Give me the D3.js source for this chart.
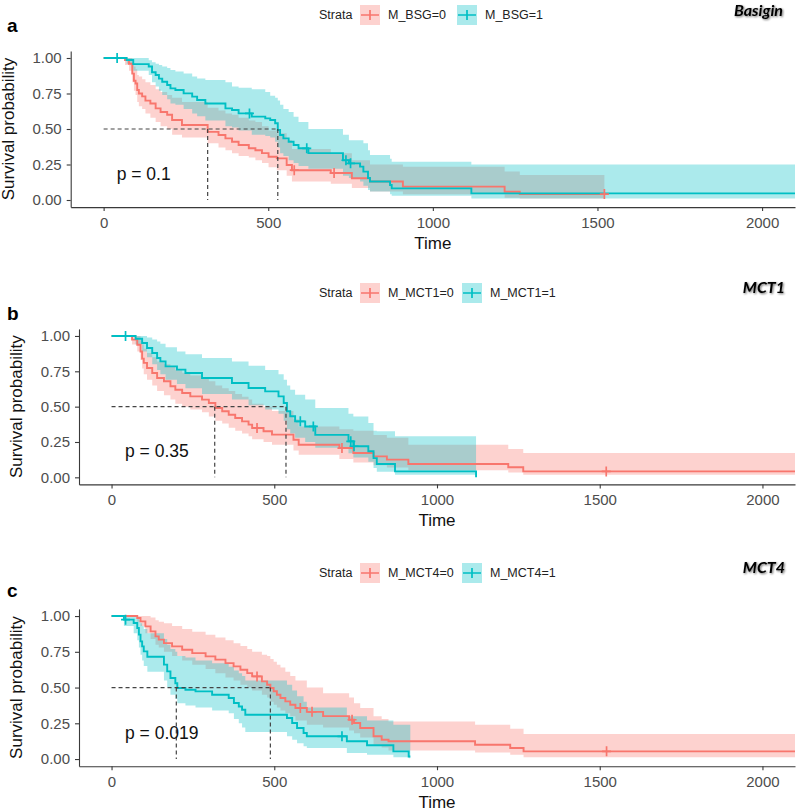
<!DOCTYPE html>
<html><head><meta charset="utf-8">
<script src="https://cdn.jsdelivr.net/npm/d3@7"></script>
<style>body{margin:0;background:#fff}</style>
</head><body><svg id="chart" width="797" height="812"></svg>
<script>
// ---------- shared axis data ----------
const xTicks = [0, 500, 1000, 1500, 2000];
const yTicks = [0, 0.25, 0.5, 0.75, 1];
const xDomain = [-100, 2100];
const yDomain = [-0.05, 1.05];
const panelLetters = ["a", "b", "c"];
const panelTitles = ["Basigin", "MCT1", "MCT4"];
const strataA = ["M_BSG=0", "M_BSG=1"];
const strataB = ["M_MCT1=0", "M_MCT1=1"];
const strataC = ["M_MCT4=0", "M_MCT4=1"];
const pValues = ["p = 0.1", "p = 0.35", "p = 0.019"];
const mediansA = [316, 529];
const mediansB = [317, 536];
const mediansC = [488, 199];

// ---------- panel a: M_BSG=0 ----------
const bsg0Time  = [0, 65, 77, 87, 92, 97, 102, 107, 117, 127, 142, 158, 173, 193, 208, 238, 316, 349, 370, 390, 410, 441, 461, 481, 501, 526, 556, 572, 690, 754, 809, 909, 1218, 1264];
const bsg0Surv  = [1.0, 0.985, 0.96, 0.89, 0.84, 0.82, 0.775, 0.75, 0.73, 0.70, 0.68, 0.645, 0.62, 0.60, 0.563, 0.528, 0.48, 0.458, 0.434, 0.41, 0.387, 0.364, 0.35, 0.33, 0.305, 0.293, 0.246, 0.21, 0.19, 0.153, 0.13, 0.094, 0.058, 0.042];
const bsg0Upper = [1, 1, 1, 0.97, 0.94, 0.92, 0.88, 0.87, 0.85, 0.83, 0.81, 0.78, 0.76, 0.74, 0.72, 0.69, 0.65, 0.63, 0.61, 0.60, 0.58, 0.56, 0.55, 0.52, 0.49, 0.47, 0.42, 0.36, 0.33, 0.28, 0.25, 0.235, 0.20, 0.176];
const bsg0Lower = [1, 0.95, 0.91, 0.83, 0.77, 0.74, 0.69, 0.66, 0.64, 0.61, 0.58, 0.55, 0.52, 0.50, 0.46, 0.44, 0.40, 0.37, 0.35, 0.33, 0.31, 0.30, 0.28, 0.26, 0.23, 0.21, 0.17, 0.13, 0.115, 0.084, 0.06, 0.04, 0.015, 0.01];
const bsg0CensorTime = [579, 700, 1521];
const bsg0CensorSurv = [0.21, 0.19, 0.042];
const bsg0End = 1521;

// ---------- panel a: M_BSG=1 ----------
const bsg1Time  = [0, 70, 90, 137, 147, 158, 168, 178, 193, 203, 218, 243, 269, 284, 309, 370, 390, 410, 450, 491, 506, 521, 529, 536, 546, 562, 577, 592, 622, 727, 745, 779, 789, 803, 809, 870, 875, 1117];
const bsg1Surv  = [1.0, 0.986, 0.957, 0.94, 0.90, 0.88, 0.855, 0.833, 0.81, 0.786, 0.775, 0.751, 0.728, 0.704, 0.68, 0.645, 0.634, 0.61, 0.587, 0.575, 0.563, 0.54, 0.493, 0.458, 0.434, 0.41, 0.387, 0.364, 0.33, 0.28, 0.258, 0.235, 0.20, 0.155, 0.13, 0.106, 0.082, 0.047];
const bsg1Upper = [1, 1, 1, 0.985, 0.97, 0.96, 0.95, 0.94, 0.93, 0.915, 0.905, 0.89, 0.87, 0.855, 0.845, 0.83, 0.80, 0.79, 0.78, 0.76, 0.735, 0.72, 0.70, 0.67, 0.64, 0.62, 0.587, 0.55, 0.50, 0.46, 0.42, 0.42, 0.40, 0.35, 0.317, 0.29, 0.27, 0.25];
const bsg1Lower = [1, 0.96, 0.91, 0.88, 0.83, 0.80, 0.77, 0.74, 0.71, 0.68, 0.67, 0.64, 0.61, 0.59, 0.56, 0.52, 0.51, 0.49, 0.46, 0.45, 0.44, 0.41, 0.37, 0.33, 0.31, 0.28, 0.26, 0.24, 0.22, 0.17, 0.155, 0.13, 0.10, 0.07, 0.06, 0.04, 0.03, 0.01];
const bsg1CensorTime = [41, 443, 617, 736, 750];
const bsg1CensorSurv = [1.0, 0.61, 0.364, 0.28, 0.258];
const bsg1End = 2100;

// ---------- panel b: M_MCT1=0 ----------
const mct1n0Time  = [0, 63, 79, 89, 94, 99, 109, 125, 140, 161, 181, 196, 217, 242, 278, 299, 319, 340, 360, 380, 401, 421, 432, 467, 493, 559, 575, 700, 743, 805, 846, 912, 1219, 1265];
const mct1n0Surv  = [1.0, 0.974, 0.938, 0.89, 0.84, 0.81, 0.773, 0.738, 0.703, 0.68, 0.644, 0.62, 0.597, 0.573, 0.55, 0.526, 0.49, 0.467, 0.443, 0.42, 0.396, 0.373, 0.349, 0.326, 0.302, 0.266, 0.231, 0.207, 0.172, 0.148, 0.125, 0.094, 0.071, 0.042];
const mct1n0Upper = [1, 1, 1, 0.97, 0.94, 0.91, 0.88, 0.85, 0.82, 0.80, 0.78, 0.76, 0.74, 0.72, 0.70, 0.68, 0.65, 0.63, 0.61, 0.59, 0.57, 0.55, 0.52, 0.50, 0.47, 0.41, 0.36, 0.34, 0.33, 0.30, 0.28, 0.23, 0.20, 0.172];
const mct1n0Lower = [1, 0.94, 0.89, 0.83, 0.77, 0.73, 0.69, 0.65, 0.61, 0.58, 0.55, 0.52, 0.50, 0.48, 0.46, 0.43, 0.40, 0.38, 0.35, 0.33, 0.31, 0.29, 0.27, 0.25, 0.23, 0.19, 0.16, 0.13, 0.105, 0.085, 0.07, 0.05, 0.035, 0.018];
const mct1n0CensorTime = [447, 708, 1520];
const mct1n0CensorSurv = [0.349, 0.207, 0.042];
const mct1n0End = 2100;

// ---------- panel b: M_MCT1=1 ----------
const mct1n1Time  = [0, 74, 94, 109, 125, 140, 150, 166, 201, 227, 278, 370, 421, 472, 513, 529, 539, 549, 564, 595, 626, 728, 743, 789, 805, 815, 871, 1120];
const mct1n1Surv  = [1.0, 0.98, 0.95, 0.915, 0.88, 0.844, 0.82, 0.785, 0.762, 0.738, 0.703, 0.667, 0.632, 0.608, 0.573, 0.526, 0.467, 0.432, 0.396, 0.36, 0.30, 0.255, 0.22, 0.184, 0.136, 0.094, 0.042, 0.0];
const mct1n1Upper = [1, 1, 1, 0.99, 0.975, 0.96, 0.945, 0.92, 0.89, 0.87, 0.845, 0.82, 0.79, 0.76, 0.73, 0.69, 0.65, 0.62, 0.585, 0.55, 0.49, 0.45, 0.43, 0.385, 0.33, 0.326, 0.29, 0.29];
const mct1n1Lower = [1, 0.94, 0.89, 0.85, 0.80, 0.76, 0.73, 0.69, 0.66, 0.63, 0.59, 0.55, 0.51, 0.48, 0.45, 0.40, 0.34, 0.31, 0.28, 0.25, 0.21, 0.17, 0.14, 0.11, 0.066, 0.04, 0.018, 0.018];
const mct1n1CensorTime = [43, 580, 620, 735, 745];
const mct1n1CensorSurv = [1.0, 0.396, 0.36, 0.255, 0.22];
const mct1n1End = 1120;

// ---------- panel c: M_MCT4=0 ----------
const mct4n0Time  = [0, 79, 89, 104, 120, 135, 145, 161, 186, 217, 248, 289, 319, 350, 375, 396, 417, 432, 462, 478, 488, 498, 508, 519, 534, 549, 565, 600, 650, 730, 745, 764, 805, 830, 851, 1117, 1225, 1266];
const mct4n0Surv  = [1.0, 0.986, 0.963, 0.928, 0.893, 0.858, 0.835, 0.811, 0.788, 0.764, 0.741, 0.718, 0.695, 0.671, 0.648, 0.625, 0.601, 0.578, 0.543, 0.52, 0.497, 0.474, 0.45, 0.427, 0.403, 0.38, 0.357, 0.33, 0.30, 0.275, 0.252, 0.217, 0.159, 0.135, 0.124, 0.10, 0.077, 0.054];
const mct4n0Upper = [1, 1, 1, 1, 0.99, 0.97, 0.96, 0.95, 0.93, 0.91, 0.89, 0.87, 0.85, 0.83, 0.81, 0.79, 0.77, 0.75, 0.73, 0.72, 0.70, 0.68, 0.66, 0.64, 0.61, 0.58, 0.55, 0.50, 0.46, 0.43, 0.39, 0.357, 0.30, 0.28, 0.263, 0.24, 0.212, 0.175];
const mct4n0Lower = [1, 0.96, 0.93, 0.88, 0.84, 0.80, 0.78, 0.75, 0.72, 0.69, 0.66, 0.63, 0.60, 0.57, 0.55, 0.52, 0.50, 0.48, 0.45, 0.43, 0.40, 0.38, 0.36, 0.34, 0.32, 0.30, 0.27, 0.24, 0.22, 0.20, 0.18, 0.15, 0.10, 0.08, 0.06, 0.045, 0.03, 0.012];
const mct4n0CensorTime = [447, 580, 616, 739, 1521];
const mct4n0CensorSurv = [0.578, 0.357, 0.33, 0.275, 0.054];
const mct4n0End = 2100;

// ---------- panel c: M_MCT4=1 ----------
const mct4n1Time  = [0, 38, 68, 79, 84, 89, 94, 99, 110, 161, 171, 181, 196, 202, 227, 258, 309, 360, 376, 391, 401, 411, 539, 555, 570, 590, 600, 723, 785, 866, 913];
const mct4n1Surv  = [1.0, 0.975, 0.951, 0.916, 0.87, 0.823, 0.788, 0.753, 0.715, 0.66, 0.613, 0.567, 0.53, 0.497, 0.485, 0.473, 0.45, 0.427, 0.392, 0.368, 0.345, 0.31, 0.287, 0.252, 0.217, 0.182, 0.159, 0.124, 0.096, 0.054, 0.018];
const mct4n1Upper = [1, 1, 1, 0.99, 0.97, 0.95, 0.93, 0.91, 0.88, 0.84, 0.80, 0.77, 0.75, 0.72, 0.71, 0.69, 0.67, 0.645, 0.62, 0.60, 0.58, 0.55, 0.52, 0.48, 0.44, 0.40, 0.36, 0.30, 0.27, 0.24, 0.24];
const mct4n1Lower = [1, 0.93, 0.88, 0.83, 0.78, 0.73, 0.69, 0.65, 0.61, 0.55, 0.50, 0.45, 0.42, 0.39, 0.375, 0.36, 0.34, 0.32, 0.28, 0.25, 0.22, 0.19, 0.16, 0.135, 0.11, 0.09, 0.077, 0.042, 0.03, 0.012, 0.005];
const mct4n1CensorTime = [43, 708];
const mct4n1CensorSurv = [0.975, 0.159];
const mct4n1End = 918;

// ---------- assemble ----------
const colors = ["#F8766D", "#00BFC4"];
function curve(time, surv, lower, upper, cTime, cSurv, end) {
  return {time, surv, lower, upper, cTime, cSurv, end};
}
const panels = [
  {letter: panelLetters[0], title: panelTitles[0], strata: strataA, pval: pValues[0], medians: mediansA,
   curves: [curve(bsg0Time, bsg0Surv, bsg0Lower, bsg0Upper, bsg0CensorTime, bsg0CensorSurv, bsg0End),
            curve(bsg1Time, bsg1Surv, bsg1Lower, bsg1Upper, bsg1CensorTime, bsg1CensorSurv, bsg1End)],
   geom: {left: 70.7, right: 795, top: 50.9, bottom: 207.1, legendY: 15, key2X: 457, label2X: 485, letterY: 32, titleY: 16, titleX: 783}},
  {letter: panelLetters[1], title: panelTitles[1], strata: strataB, pval: pValues[1], medians: mediansB,
   curves: [curve(mct1n0Time, mct1n0Surv, mct1n0Lower, mct1n0Upper, mct1n0CensorTime, mct1n0CensorSurv, mct1n0End),
            curve(mct1n1Time, mct1n1Surv, mct1n1Lower, mct1n1Upper, mct1n1CensorTime, mct1n1CensorSurv, mct1n1End)],
   geom: {left: 79, right: 795, top: 328.9, bottom: 484.4, legendY: 293, key2X: 462, label2X: 490, letterY: 320, titleY: 293, titleX: 785}},
  {letter: panelLetters[2], title: panelTitles[2], strata: strataC, pval: pValues[2], medians: mediansC,
   curves: [curve(mct4n0Time, mct4n0Surv, mct4n0Lower, mct4n0Upper, mct4n0CensorTime, mct4n0CensorSurv, mct4n0End),
            curve(mct4n1Time, mct4n1Surv, mct4n1Lower, mct4n1Upper, mct4n1CensorTime, mct4n1CensorSurv, mct4n1End)],
   geom: {left: 79, right: 795, top: 608.9, bottom: 766.2, legendY: 573, key2X: 462, label2X: 490, letterY: 597, titleY: 573, titleX: 785}}
];

const FONT = "'Liberation Sans', Arial, sans-serif";
const svg = d3.select("#chart");
svg.append("rect").attr("width", 797).attr("height", 812).attr("fill", "#fff");

const defs = svg.append("defs");
const f = defs.append("filter").attr("id", "soft").attr("x", "-10%").attr("y", "-30%").attr("width", "120%").attr("height", "160%");
f.append("feGaussianBlur").attr("in", "SourceAlpha").attr("stdDeviation", 0.8).attr("result", "b");
f.append("feOffset").attr("in", "b").attr("dx", 0.8).attr("dy", 0.8).attr("result", "o");
f.append("feComponentTransfer").attr("in", "o").attr("result", "o2").append("feFuncA").attr("type", "linear").attr("slope", 0.6);
const fm = f.append("feMerge");
fm.append("feMergeNode").attr("in", "o2");
fm.append("feMergeNode").attr("in", "SourceGraphic");

panels.forEach((p, pi) => {
  const g = p.geom;
  const x = d3.scaleLinear().domain(xDomain).range([g.left, g.right]);
  const y = d3.scaleLinear().domain(yDomain).range([g.bottom, g.top]);
  const clipId = "clip" + pi;
  defs.append("clipPath").attr("id", clipId).append("rect")
    .attr("x", g.left).attr("y", g.top).attr("width", g.right - g.left).attr("height", g.bottom - g.top);
  const plot = svg.append("g").attr("clip-path", `url(#${clipId})`);

  const series = p.curves.map(c => {
    const pts = c.time.map((t, k) => ({t, s: c.surv[k], lo: c.lower[k], up: c.upper[k]}));
    const last = pts[pts.length - 1];
    pts.push({t: c.end, s: last.s, lo: last.lo, up: last.up});
    return pts;
  });

  // confidence bands
  series.forEach((pts, i) => {
    plot.append("path").datum(pts)
      .attr("d", d3.area().curve(d3.curveStepAfter).x(d => x(d.t)).y0(d => y(d.lo)).y1(d => y(d.up)))
      .attr("fill", colors[i]).attr("fill-opacity", 0.33).attr("stroke", "none");
  });
  // survival lines
  series.forEach((pts, i) => {
    plot.append("path").datum(pts)
      .attr("d", d3.line().curve(d3.curveStepAfter).x(d => x(d.t)).y(d => y(d.s)))
      .attr("fill", "none").attr("stroke", colors[i]).attr("stroke-width", 1.9);
  });
  // censor marks
  p.curves.forEach((c, i) => {
    c.cTime.forEach((t, k) => {
      const cx = x(t), cy = y(c.cSurv[k]);
      plot.append("path").attr("d", `M${cx - 4.5},${cy}H${cx + 4.5}M${cx},${cy - 5}V${cy + 5}`)
        .attr("stroke", colors[i]).attr("stroke-width", 1.7).attr("fill", "none");
    });
  });
  // median lines
  const dash = {stroke: "#444", "stroke-width": 1.2, "stroke-dasharray": "4,3", fill: "none"};
  const hl = svg.append("line").attr("x1", x(0)).attr("x2", x(d3.max(p.medians))).attr("y1", y(0.5)).attr("y2", y(0.5));
  Object.entries(dash).forEach(([k, v]) => hl.attr(k, v));
  p.medians.forEach(m => {
    const vl = svg.append("line").attr("x1", x(m)).attr("x2", x(m)).attr("y1", y(0.5)).attr("y2", y(0));
    Object.entries(dash).forEach(([k, v]) => vl.attr(k, v));
  });

  // axes
  const xa = svg.append("g").attr("transform", `translate(0,${g.bottom})`)
    .call(d3.axisBottom(x).tickValues(xTicks).tickSize(4).tickSizeOuter(0).tickPadding(6).tickFormat(d3.format("d")));
  const ya = svg.append("g").attr("transform", `translate(${g.left},0)`)
    .call(d3.axisLeft(y).tickValues(yTicks).tickSize(4).tickSizeOuter(0).tickPadding(5).tickFormat(d3.format(".2f")));
  [xa, ya].forEach(a => {
    a.select(".domain").attr("stroke", "#3a3a3a").attr("stroke-width", 1.1);
    a.selectAll(".tick line").attr("stroke", "#3a3a3a").attr("stroke-width", 1.1);
    a.selectAll(".tick text").attr("fill", "#4d4d4d").style("font-family", FONT).style("font-size", "15px");
  });

  // axis titles
  svg.append("text").attr("x", (g.left + g.right) / 2).attr("y", g.bottom + 42)
    .attr("text-anchor", "middle").style("font-family", FONT).style("font-size", "17px").attr("fill", "#111").text("Time");
  svg.append("text").attr("transform", `translate(${g.left - 57},${(g.top + g.bottom) / 2}) rotate(-90)`)
    .attr("text-anchor", "middle").style("font-family", FONT).style("font-size", "17px").attr("fill", "#111").text("Survival probability");

  // p-value
  svg.append("text").attr("x", g.left + 46).attr("y", y(0.185)).attr("dy", "0.35em")
    .style("font-family", FONT).style("font-size", "17.5px").attr("fill", "#111").text(p.pval);

  // panel letter
  svg.append("text").attr("x", 7).attr("y", g.letterY).style("font-family", FONT).style("font-size", "19px")
    .style("font-weight", "bold").attr("fill", "#000").text(p.letter);
  // gene title
  svg.append("text").attr("x", g.titleX).attr("y", g.titleY).attr("text-anchor", "end")
    .style("font-family", "Lato, 'Liberation Sans', sans-serif").style("font-size", "16px").style("font-weight", "bold").style("font-style", "italic")
    .attr("fill", "#000").attr("filter", "url(#soft)").text(p.title);

  // legend
  const ly = g.legendY;
  svg.append("text").attr("x", 319).attr("y", ly).attr("dy", "0.35em").style("font-family", FONT).style("font-size", "12.5px").attr("fill", "#222").text("Strata");
  const keyX = [360, g.key2X], labX = [388, g.label2X];
  p.strata.forEach((s, i) => {
    svg.append("rect").attr("x", keyX[i]).attr("y", ly - 10).attr("width", 20).attr("height", 20).attr("fill", colors[i]).attr("fill-opacity", 0.33);
    svg.append("path").attr("d", `M${keyX[i] + 1},${ly}H${keyX[i] + 19}M${keyX[i] + 10},${ly - 5}V${ly + 5}`)
      .attr("stroke", colors[i]).attr("stroke-width", 1.7).attr("fill", "none");
    svg.append("text").attr("x", labX[i]).attr("y", ly).attr("dy", "0.35em").style("font-family", FONT).style("font-size", "12.5px").attr("fill", "#222").text(s);
  });
});
</script>
</body></html>
